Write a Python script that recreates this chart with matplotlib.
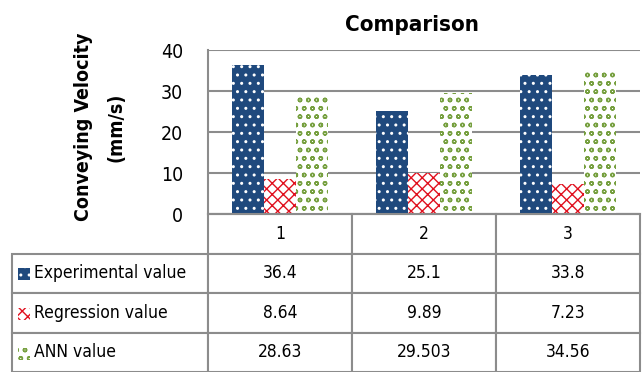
import matplotlib
matplotlib.use("Agg")
import matplotlib.pyplot as plt
from matplotlib.patches import Rectangle
from matplotlib.table import Table
import numpy as np

plt.rcParams['font.family'] = ['DejaVu Sans']
plt.rcParams['font.stretch'] = 'condensed'
plt.rcParams['hatch.linewidth'] = 1.0

categories = ["1", "2", "3"]
series_names = ["Experimental value", "Regression value", "ANN value"]
experimental = [36.4, 25.1, 33.8]
regression = [8.64, 9.89, 7.23]
ann = [28.63, 29.503, 34.56]
table_text = [["36.4", "25.1", "33.8"],
              ["8.64", "9.89", "7.23"],
              ["28.63", "29.503", "34.56"]]

styles = [
    dict(facecolor="#1F497D", edgecolor="white", hatch=".."),
    dict(facecolor="white", edgecolor="#E0101E", hatch="xxx"),
    dict(facecolor="white", edgecolor="#77A040", hatch="oo"),
]
grey = "#8C8C8C"

W, H = 644, 372
fig = plt.figure(figsize=(W / 100, H / 100), dpi=100)
ax = fig.add_axes([208 / W, 1 - 214 / H, 432 / W, 164 / H])

x = np.arange(len(categories))
width = 0.222
for i, vals in enumerate([experimental, regression, ann]):
    ax.bar(x + (i - 1) * width, vals, width, linewidth=0, **styles[i])

ax.set_xlim(-0.5, 2.5)
ax.set_ylim(0, 40)
ax.set_yticks([0, 10, 20, 30, 40])
ax.yaxis.grid(True, color=grey, linewidth=1.5)
ax.set_axisbelow(True)
ax.set_xticks([])
ax.tick_params(axis="y", length=0, labelsize=14, pad=18)
for s in ["top", "right"]:
    ax.spines[s].set_visible(False)
for s in ["left", "bottom"]:
    ax.spines[s].set_color(grey)
    ax.spines[s].set_linewidth(1.5)

ax.set_title("Comparison", fontsize=16, fontweight="bold", x=0.472, pad=14)
ax.set_ylabel("Conveying Velocity\n(mm/s)", fontsize=14, fontweight="bold",
              linespacing=1.9)
ax.yaxis.set_label_coords(-0.192, 0.53)

# data table under the plot (cell sizes in axes fractions)
lab_w = 196 / 432
col_w = 1 / 3
row_h = 158 / 164 / 4
tbl = Table(ax, bbox=[0, -4 * row_h, 1, 4 * row_h])
for j, cat in enumerate(categories):
    tbl.add_cell(0, j, col_w, row_h, text=cat, loc="center")
for i, name in enumerate(series_names):
    tbl.add_cell(i + 1, -1, lab_w, row_h, text="    " + name, loc="left")
    for j in range(len(categories)):
        tbl.add_cell(i + 1, j, col_w, row_h, text=table_text[i][j], loc="center")
tbl.auto_set_font_size(False)
tbl.set_fontsize(12.5)
for (r, c), cell in tbl.get_celld().items():
    cell.set_edgecolor(grey)
    cell.set_linewidth(1.5)
    cell.PAD = 0.01
ax.add_table(tbl)

# legend keys in the row label cells
for i, st in enumerate(styles):
    yc = 1 - (274 + 40 * i) / H
    key = Rectangle((18 / W, yc - 6 / H), 12 / W, 12 / H, transform=fig.transFigure,
                    linewidth=0, **st)
    fig.add_artist(key)

fig.savefig("out.png", dpi=100)
